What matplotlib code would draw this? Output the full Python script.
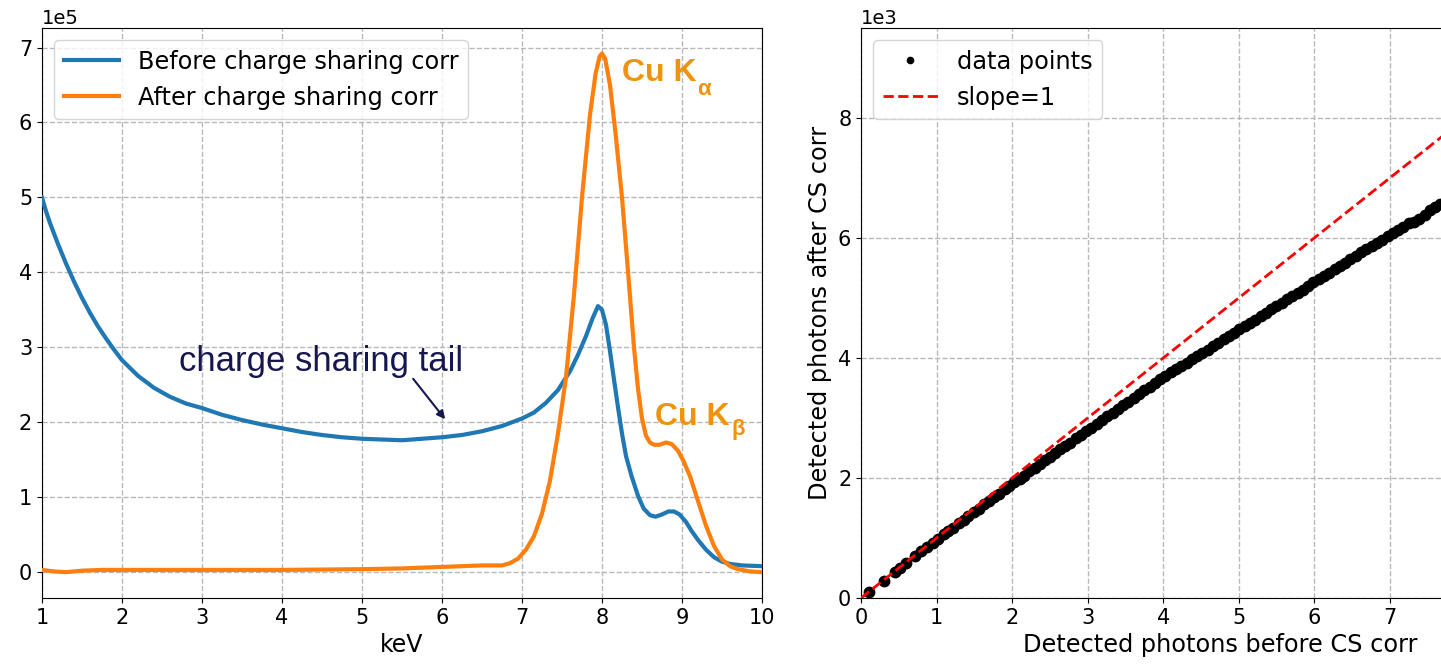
import numpy as np
import matplotlib.pyplot as plt
from matplotlib.ticker import MultipleLocator

# spectra (counts in units of 1e5) vs energy in keV
kev_before = [1.0, 1.05, 1.1, 1.2, 1.3, 1.4, 1.5, 1.6, 1.7, 1.8, 1.9, 2.0, 2.2,
              2.4, 2.6, 2.8, 3.0, 3.25, 3.5, 3.75, 4.0, 4.25, 4.5, 4.75, 5.0,
              5.25, 5.5, 5.75, 6.0, 6.25, 6.5, 6.75, 7.0, 7.15, 7.3, 7.45, 7.6,
              7.7, 7.8, 7.88, 7.95, 8.0, 8.05, 8.1, 8.15, 8.2, 8.25, 8.3, 8.37,
              8.45, 8.52, 8.6, 8.67, 8.75, 8.83, 8.9, 8.97, 9.05, 9.12, 9.2, 9.3,
              9.4, 9.5, 9.6, 9.75, 10.0]
counts_before = [5.0, 4.82, 4.66, 4.38, 4.12, 3.88, 3.66, 3.46, 3.28, 3.12, 2.97,
                 2.83, 2.62, 2.46, 2.34, 2.25, 2.19, 2.1, 2.03, 1.97, 1.92, 1.87,
                 1.83, 1.8, 1.78, 1.77, 1.76, 1.78, 1.8, 1.83, 1.88, 1.95, 2.05,
                 2.13, 2.26, 2.43, 2.68, 2.9, 3.15, 3.38, 3.55, 3.5, 3.3, 2.95,
                 2.57, 2.2, 1.85, 1.55, 1.28, 1.02, 0.85, 0.76, 0.74, 0.77, 0.81,
                 0.81, 0.77, 0.67, 0.55, 0.43, 0.3, 0.2, 0.14, 0.11, 0.09, 0.08]

kev_after = [1.0, 1.15, 1.3, 1.5, 1.75, 2.0, 3.0, 4.0, 5.0, 5.5, 6.0, 6.25, 6.5,
             6.75, 6.85, 6.95, 7.05, 7.15, 7.25, 7.35, 7.45, 7.55, 7.65, 7.75,
             7.85, 7.92, 7.97, 8.0, 8.04, 8.1, 8.17, 8.25, 8.33, 8.4, 8.45, 8.5,
             8.55, 8.6, 8.65, 8.72, 8.8, 8.87, 8.95, 9.02, 9.1, 9.2, 9.3, 9.4,
             9.5, 9.6, 9.7, 9.85, 10.0]
counts_after = [0.03, 0.01, 0.0, 0.02, 0.03, 0.03, 0.03, 0.03, 0.04, 0.05, 0.07,
                0.08, 0.09, 0.09, 0.12, 0.18, 0.3, 0.48, 0.78, 1.22, 1.85, 2.6,
                3.7, 5.0, 6.1, 6.65, 6.88, 6.92, 6.85, 6.5, 5.85, 5.0, 3.95, 3.0,
                2.45, 2.05, 1.82, 1.73, 1.7, 1.7, 1.73, 1.71, 1.62, 1.48, 1.28,
                0.95, 0.62, 0.35, 0.17, 0.08, 0.04, 0.01, 0.0]

# detected photons per pixel (units of 1e3)
photons_before = [0.10, 0.30, 0.45, 0.52, 0.60, 0.72, 0.80, 0.88, 0.95, 1.02, 1.10,
                  1.15, 1.22, 1.30, 1.36, 1.42, 1.50, 1.56, 1.63, 1.70, 1.76, 1.83,
                  1.90, 1.96, 2.03, 2.10, 2.16, 2.23, 2.30, 2.37, 2.44, 2.50, 2.57,
                  2.64, 2.70, 2.77, 2.84, 2.91, 2.98, 3.05, 3.12, 3.19, 3.26, 3.33,
                  3.40, 3.47, 3.54, 3.61, 3.68, 3.75, 3.82, 3.89, 3.96, 4.03, 4.10,
                  4.17, 4.24, 4.31, 4.38, 4.45, 4.52, 4.59, 4.66, 4.73, 4.80, 4.87,
                  4.94, 5.01, 5.08, 5.15, 5.22, 5.29, 5.36, 5.43, 5.50, 5.57, 5.64,
                  5.71, 5.78, 5.85, 5.92, 5.99, 6.06, 6.13, 6.20, 6.27, 6.34, 6.41,
                  6.48, 6.55, 6.62, 6.69, 6.76, 6.83, 6.90, 6.97, 7.04, 7.11, 7.18,
                  7.25, 7.32, 7.39, 7.46, 7.53, 7.60, 7.67, 7.74]
photons_after = [0.10, 0.29, 0.44, 0.50, 0.58, 0.70, 0.78, 0.85, 0.92, 0.99, 1.06,
                 1.11, 1.17, 1.25, 1.30, 1.36, 1.44, 1.49, 1.56, 1.62, 1.68, 1.74,
                 1.81, 1.86, 1.93, 1.99, 2.04, 2.11, 2.17, 2.23, 2.30, 2.35, 2.41,
                 2.48, 2.53, 2.59, 2.66, 2.72, 2.78, 2.84, 2.90, 2.97, 3.03, 3.09,
                 3.15, 3.21, 3.27, 3.34, 3.40, 3.46, 3.52, 3.58, 3.65, 3.70, 3.76,
                 3.81, 3.87, 3.92, 3.98, 4.03, 4.09, 4.14, 4.20, 4.25, 4.31, 4.37,
                 4.42, 4.48, 4.53, 4.59, 4.64, 4.70, 4.75, 4.81, 4.87, 4.92, 4.98,
                 5.03, 5.09, 5.14, 5.20, 5.26, 5.32, 5.37, 5.42, 5.48, 5.54, 5.59,
                 5.65, 5.70, 5.76, 5.81, 5.87, 5.92, 5.97, 6.03, 6.08, 6.14, 6.19,
                 6.25, 6.27, 6.32, 6.39, 6.46, 6.52, 6.57, 6.62]
slope_line = [0.0, 10.0]
x_ticks_right = [0, 1, 2, 3, 4, 5, 6, 7]

label_color = '#f0920a'
navy = '#17174f'

fig = plt.figure(figsize=(14.41, 6.67), dpi=100)

# Spektren vor/nach Korrektur
ax1 = fig.add_axes([0.0291, 0.1034, 0.4997, 0.8546])
ax1.plot(kev_before, np.array(counts_before) * 1e5, color='#1f77b4', lw=3.0,
         label='Before charge sharing corr', zorder=3)
ax1.plot(kev_after, np.array(counts_after) * 1e5, color='#ff7f0e', lw=3.0,
         label='After charge sharing corr', zorder=3)
ax1.set_xlim(1, 10)
ax1.set_ylim(-0.345e5, 7.26e5)
ax1.xaxis.set_major_locator(MultipleLocator(1))
ax1.yaxis.set_major_locator(MultipleLocator(1e5))
ax1.ticklabel_format(axis='y', style='sci', scilimits=(0, 0))
ax1.yaxis.get_offset_text().set_fontsize(14)
ax1.grid(True, linestyle='--', color='#b8b8b8', lw=1)
ax1.tick_params(labelsize=15)
ax1.set_xlabel('keV', fontsize=17)
ax1.legend(loc='upper left', fontsize=17.3, handlelength=2.3)

ax1.text(4.49, 2.81e5, 'charge sharing tail', fontsize=25, color=navy,
         family='Liberation Sans', ha='center', va='center')
ax1.annotate('', xy=(6.04, 2.04e5), xytext=(5.64, 2.58e5),
             arrowprops=dict(arrowstyle='-|>', color=navy, lw=1.5,
                             shrinkA=0, shrinkB=0, mutation_scale=12))

ax1.text(8.25, 6.55e5, 'Cu K', color=label_color, fontsize=23,
         fontweight='bold', family='Liberation Sans')
ax1.text(9.19, 6.37e5, 'α', color=label_color, fontsize=16,
         fontweight='bold', family='Liberation Sans')
ax1.text(8.66, 1.97e5, 'Cu K', color=label_color, fontsize=23,
         fontweight='bold', family='Liberation Sans')
ax1.text(9.62, 1.83e5, 'β', color=label_color, fontsize=16,
         fontweight='bold', family='Liberation Sans')

# Streudiagramm: Photonen vor vs. nach Korrektur
ax2 = fig.add_axes([0.5975, 0.1034, 0.498, 0.8546])
ax2.plot(np.array(photons_before) * 1e3, np.array(photons_after) * 1e3, 'o',
         color='black', ms=7.5, label='data points', zorder=3)
ax2.plot(np.array(slope_line) * 1e3, np.array(slope_line) * 1e3, '--',
         color='red', lw=2, label='slope=1', zorder=4)
ax2.set_xlim(0, 9.5e3)
ax2.set_ylim(0, 9.5e3)
ax2.set_xticks(np.array(x_ticks_right) * 1e3)
ax2.yaxis.set_major_locator(MultipleLocator(2e3))
ax2.ticklabel_format(axis='both', style='sci', scilimits=(0, 0))
ax2.yaxis.get_offset_text().set_fontsize(14)
ax2.xaxis.get_offset_text().set_visible(False)
ax2.grid(True, linestyle='--', color='#b8b8b8', lw=1)
ax2.tick_params(labelsize=15)
ax2.set_xlabel('Detected photons before CS corr', fontsize=17.3)
ax2.set_ylabel('Detected photons after CS corr', fontsize=17.3)
ax2.legend(loc='upper left', fontsize=17.3, markerscale=0.6, handlelength=2.3)

fig.savefig('out.png', dpi=100)
